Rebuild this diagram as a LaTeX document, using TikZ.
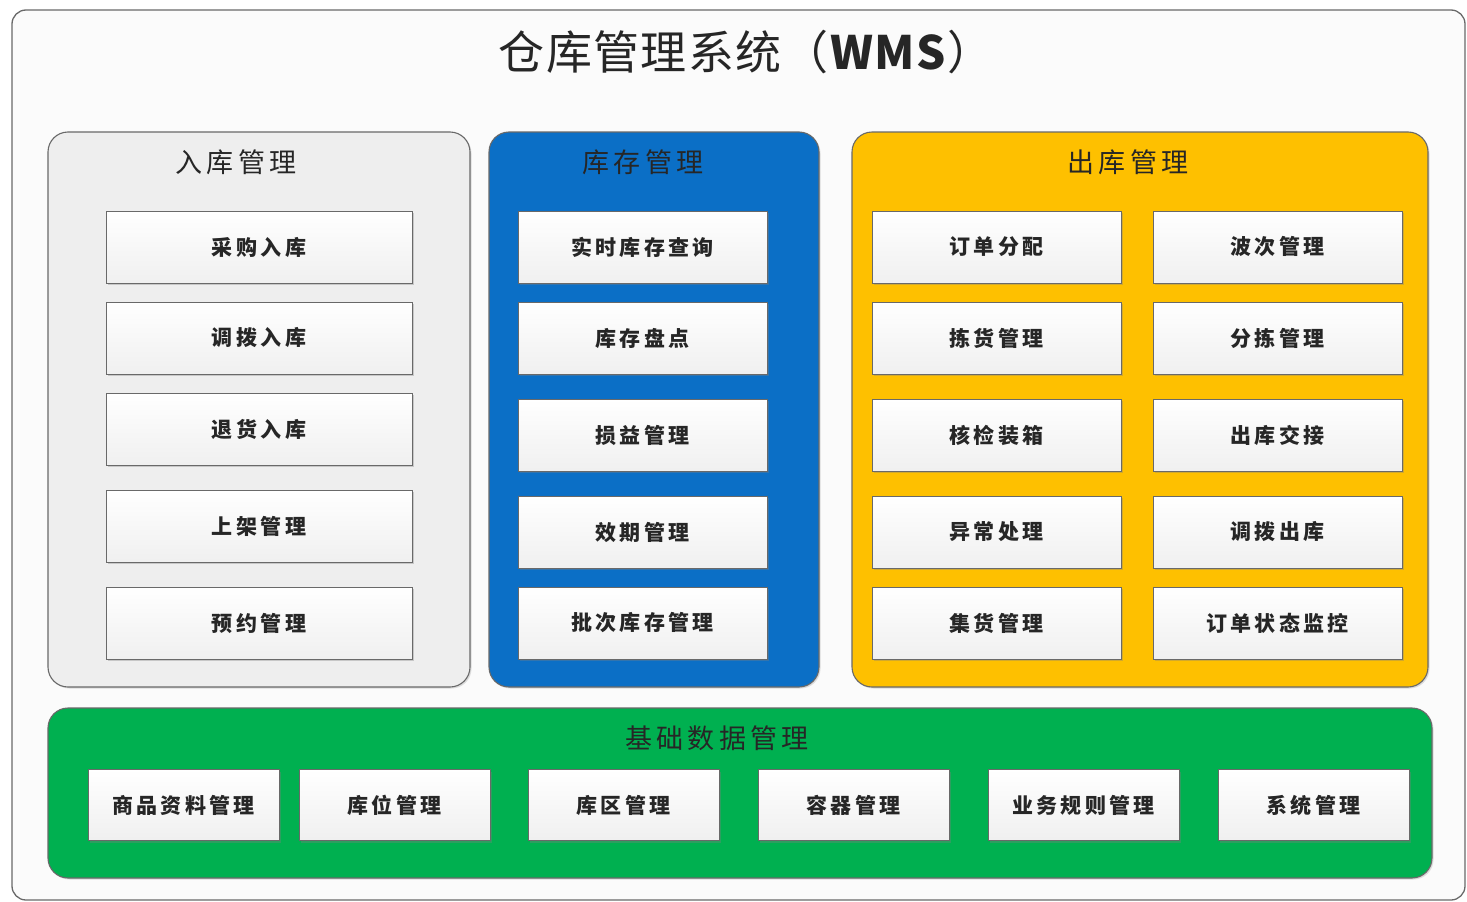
\documentclass[tikz,border=0pt]{standalone}
\usepackage{fontspec}
\usepackage{tikz}
\usetikzlibrary{positioning,shadows}
\newfontfamily\cjk[LetterSpace=3]{Noto Sans CJK SC}
\newfontfamily\cjkitem[LetterSpace=16]{Noto Sans CJK SC}
\newfontfamily\cjkhead[LetterSpace=15]{Noto Sans CJK SC}
\definecolor{wmsgray}{RGB}{238, 238, 238}
\definecolor{wmsblue}{RGB}{11, 111, 198}
\definecolor{wmsyellow}{RGB}{254, 192, 0}
\definecolor{wmsgreen}{RGB}{0, 176, 80}
\definecolor{wmsline}{RGB}{105, 105, 105}
\tikzstyle{frame} = [draw=wmsline, line width=1.3pt, rounded corners=14pt, fill=white!97!gray, inner sep=0pt]
\tikzstyle{panel} = [draw=wmsline, line width=1.1pt, rounded corners=20pt, inner sep=0pt, drop shadow={shadow xshift=1.5pt, shadow yshift=-1.5pt, opacity=0.25}]
\tikzstyle{item} = [draw=wmsline, line width=1pt, top color=white, bottom color=gray!12, inner sep=0pt, minimum width=306pt, minimum height=72pt, text=black!85, font=\cjkitem\bfseries\fontsize{21}{21}\selectfont, drop shadow={shadow xshift=2pt, shadow yshift=-2pt, opacity=0.35}]
\tikzstyle{itemnarrow} = [item, minimum width=249pt]
\tikzstyle{itembase} = [item, minimum width=191pt, minimum height=71pt]
\tikzstyle{heading} = [draw=none, fill=none, text=black!85, text centered, font=\cjkhead\fontsize{27}{27}\selectfont]
\tikzstyle{textonly} = [draw=none, fill=none, text=black!85, text centered, font=\cjk\fontsize{46}{46}\selectfont]

\begin{document}
\begin{tikzpicture}[x=1pt, y=-1pt]
\useasboundingbox (0,0) rectangle (1467,902);

% frame ==================================
\node[frame, minimum width=1453pt, minimum height=890pt] (wms) at (738.5,455) {};
\node[textonly] (title) at (746,52) {仓库管理系统（\textbf{WMS}）};

% panels
\node[panel, fill=wmsgray, minimum width=422pt, minimum height=555pt] (inpanel) at (259,409.5) {};
\node[panel, fill=wmsblue, minimum width=330pt, minimum height=555pt] (stockpanel) at (654,409.5) {};
\node[panel, fill=wmsyellow, minimum width=576pt, minimum height=555pt] (outpanel) at (1140,409.5) {};
\node[panel, fill=wmsgreen, minimum width=1384pt, minimum height=170pt] (basepanel) at (740,793) {};

% headings
\node[heading] (intitle) at (236,162) {入库管理};
\node[heading] (stocktitle) at (643,162) {库存管理};
\node[heading] (outtitle) at (1128,162) {出库管理};
\node[heading] (basetitle) at (717,738) {基础数据管理};

% inbound
\node[item] (in1) at (259,247) {采购入库};
\node[item, below=18pt of in1] (in2) {调拨入库};
\node[item, below=18pt of in2] (in3) {退货入库};
\node[item, below=24pt of in3] (in4) {上架管理};
\node[item, below=24pt of in4] (in5) {预约管理};

% stock
\node[itemnarrow] (st1) at (642.5,247) {实时库存查询};
\node[itemnarrow, below=18pt of st1] (st2) {库存盘点};
\node[itemnarrow, below=24pt of st2] (st3) {损益管理};
\node[itemnarrow, below=24pt of st3] (st4) {效期管理};
\node[itemnarrow, below=18pt of st4] (st5) {批次库存管理};

% outbound
\node[itemnarrow] (out1) at (996.5,247) {订单分配};
\node[itemnarrow, below=18pt of out1] (out2) {拣货管理};
\node[itemnarrow, below=24pt of out2] (out3) {核检装箱};
\node[itemnarrow, below=24pt of out3] (out4) {异常处理};
\node[itemnarrow, below=18pt of out4] (out5) {集货管理};
\node[itemnarrow, right=31pt of out1] (out6) {波次管理};
\node[itemnarrow, right=31pt of out2] (out7) {分拣管理};
\node[itemnarrow, right=31pt of out3] (out8) {出库交接};
\node[itemnarrow, right=31pt of out4] (out9) {调拨出库};
\node[itemnarrow, right=31pt of out5] (out10) {订单状态监控};

% base data
\node[itembase] (base1) at (183.5,805) {商品资料管理};
\node[itembase, right=19pt of base1] (base2) {库位管理};
\node[itembase, right=37pt of base2] (base3) {库区管理};
\node[itembase, right=38pt of base3] (base4) {容器管理};
\node[itembase, right=38pt of base4] (base5) {业务规则管理};
\node[itembase, right=38pt of base5] (base6) {系统管理};

\end{tikzpicture}
\end{document}
